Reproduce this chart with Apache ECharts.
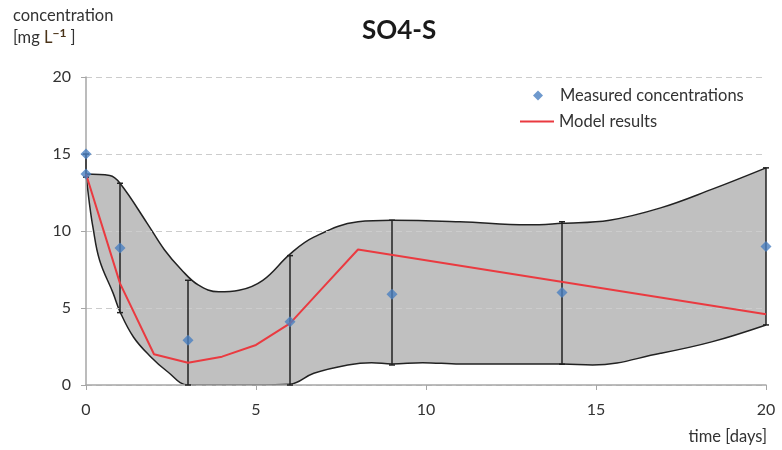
<!DOCTYPE html>
<html>
<head>
<meta charset="utf-8">
<script src="https://cdn.jsdelivr.net/npm/echarts@6/dist/echarts.min.js"></script>
<style>html,body{margin:0;padding:0;background:#fff}#c{width:782px;height:450px}</style>
</head>
<body>
<div id="c"></div>
<script>
// ---- data ----
var measuredX = [0, 0, 1, 3, 6, 9, 14, 20];
var measuredY = [15, 13.7, 8.9, 2.9, 4.1, 5.9, 6.0, 9.0];

var modelX = [0, 1, 2, 3, 4, 5, 6, 7, 8, 20];
var modelY = [13.7, 6.6, 2.0, 1.45, 1.84, 2.6, 4.0, 6.4, 8.8, 4.6];

var errX    = [0, 1, 3, 6, 9, 14, 20];
var errLow  = [13.5, 4.7, 0, 0, 1.3, 1.35, 3.9];
var errHigh = [15, 13.1, 6.8, 8.4, 10.7, 10.6, 14.1];

var upperX = [0, 0.7, 1, 1.8, 2.3, 2.8, 3.3, 3.9, 4.5, 5.2, 6, 6.7, 8, 9, 11, 13, 14, 15.4, 16.9, 18.4, 20];
var upperY = [13.7, 13.6, 13.1, 10.5, 8.8, 7.5, 6.5, 6.05, 6.15, 6.8, 8.5, 9.6, 10.6, 10.7, 10.6, 10.4, 10.5, 10.7, 11.5, 12.7, 14.1];

var lowerX = [0, 0.1, 0.2, 0.4, 0.8, 1, 1.4, 1.9, 2.4, 3, 4, 5, 6, 6.7, 7.7, 8.4, 9, 9.9, 11, 14, 14.9, 16.9, 18.4, 20];
var lowerY = [13.7, 11.8, 10.3, 8.1, 5.95, 4.76, 3.1, 1.84, 0.86, 0, 0, 0, 0.05, 0.76, 1.3, 1.45, 1.36, 1.45, 1.36, 1.36, 1.3, 2.06, 2.8, 3.9];

var xTicks = {min: 0, max: 20, interval: 5};
var yTicks = {min: 0, max: 20, interval: 5};

function pairs(xs, ys) { return xs.map(function (x, i) { return [x, ys[i]]; }); }

var FONT = 'Lato, "Open Sans", sans-serif';
var TXT = '#333';
var chart = echarts.init(document.getElementById('c'), null, {renderer: 'canvas'});

chart.setOption({
  animation: false,
  backgroundColor: '#fff',
  title: {
    text: 'SO4-S', left: 362, top: 18, padding: 0,
    textStyle: {fontFamily: FONT, fontWeight: 'bold', fontSize: 26, color: '#1a1a1a'}
  },
  legend: [
    {
      orient: 'vertical', left: 533, top: 87, padding: 0, itemWidth: 10, itemHeight: 10,
      textStyle: {fontFamily: FONT, fontSize: 16.5, color: TXT, padding: [0, 0, 0, 12]},
      data: [{name: 'Measured concentrations', icon: 'diamond'}]
    },
    {
      orient: 'vertical', left: 520, top: 113, padding: 0, itemWidth: 34, itemHeight: 2,
      textStyle: {fontFamily: FONT, fontSize: 16.5, color: TXT, padding: [0, 0, 0, 0]},
      data: [{name: 'Model results', icon: 'rect'}]
    }
  ],
  graphic: [
    {type: 'text', left: 13, top: 7, style: {text: 'concentration', font: '16.5px ' + FONT, fill: TXT}},
    {type: 'text', left: 13, top: 27, style: {
      text: '[mg {l|L}{s|−1}{l| }]',
      font: '16.5px ' + FONT, fill: TXT,
      rich: {
        l: {fontSize: 16.5, fontFamily: 'Lato, sans-serif', fill: '#4a3318'},
        s: {fontSize: 12, fontFamily: 'Lato, sans-serif', fill: '#4a3318', padding: [0, 0, 9, 0], fontWeight: 'bold'}
      }
    }},
    {type: 'text', right: 15, top: 428, style: {text: 'time [days]', font: '16.5px ' + FONT, fill: TXT}}
  ],
  grid: {left: 86, right: 16, top: 77, bottom: 65},
  xAxis: {
    type: 'value', min: xTicks.min, max: xTicks.max, interval: xTicks.interval, z: 3,
    axisLine: {onZero: false, lineStyle: {color: '#a6a6a6', width: 1.5}},
    axisTick: {show: true, length: 5, lineStyle: {color: '#a6a6a6'}},
    axisLabel: {fontFamily: FONT, fontSize: 16, color: TXT, margin: 17},
    splitLine: {show: false}
  },
  yAxis: {
    type: 'value', min: yTicks.min, max: yTicks.max, interval: yTicks.interval, z: 3,
    axisLine: {show: true, lineStyle: {color: '#a6a6a6', width: 1.5}},
    axisTick: {show: true, length: 5, lineStyle: {color: '#a6a6a6'}},
    axisLabel: {fontFamily: FONT, fontSize: 16, color: TXT, margin: 15},
    splitLine: {show: true, lineStyle: {color: '#cccccc', type: [6, 4], width: 1}}
  },
  series: [
    {
      name: 'upper', type: 'line', data: pairs(upperX, upperY), smooth: 0.4,
      showSymbol: false, symbol: 'none', z: 1,
      lineStyle: {color: '#222', width: 1.5},
      areaStyle: {color: '#c0c0c0', opacity: 1, origin: 'start'},
      silent: true
    },
    {
      name: 'lower', type: 'line', data: pairs(lowerX, lowerY), smooth: 0.4,
      showSymbol: false, symbol: 'none', z: 2,
      lineStyle: {color: '#222', width: 1.5},
      areaStyle: {color: '#ffffff', opacity: 1, origin: 'start'},
      silent: true
    },
    {
      name: 'errors', type: 'custom', z: 5,
      data: errX.map(function (x, i) { return [x, errLow[i], errHigh[i]]; }),
      renderItem: function (params, api) {
        var lo = api.coord([api.value(0), api.value(1)]);
        var hi = api.coord([api.value(0), api.value(2)]);
        var st = {stroke: '#222', lineWidth: 1.5};
        return {type: 'group', children: [
          {type: 'line', shape: {x1: lo[0], y1: lo[1], x2: hi[0], y2: hi[1]}, style: st},
          {type: 'line', shape: {x1: lo[0] - 3, y1: lo[1], x2: lo[0] + 3, y2: lo[1]}, style: st},
          {type: 'line', shape: {x1: hi[0] - 3, y1: hi[1], x2: hi[0] + 3, y2: hi[1]}, style: st}
        ]};
      },
      silent: true
    },
    {
      name: 'Model results', type: 'line', data: pairs(modelX, modelY), smooth: false,
      showSymbol: false, symbol: 'none', z: 6,
      lineStyle: {color: '#ea3a40', width: 2},
      itemStyle: {color: '#ea3a40'}
    },
    {
      name: 'Measured concentrations', type: 'scatter', data: pairs(measuredX, measuredY),
      symbol: 'diamond', symbolSize: [11, 11], z: 7,
      itemStyle: {color: '#4a7fc1'}
    }
  ]
});
</script>
</body>
</html>
